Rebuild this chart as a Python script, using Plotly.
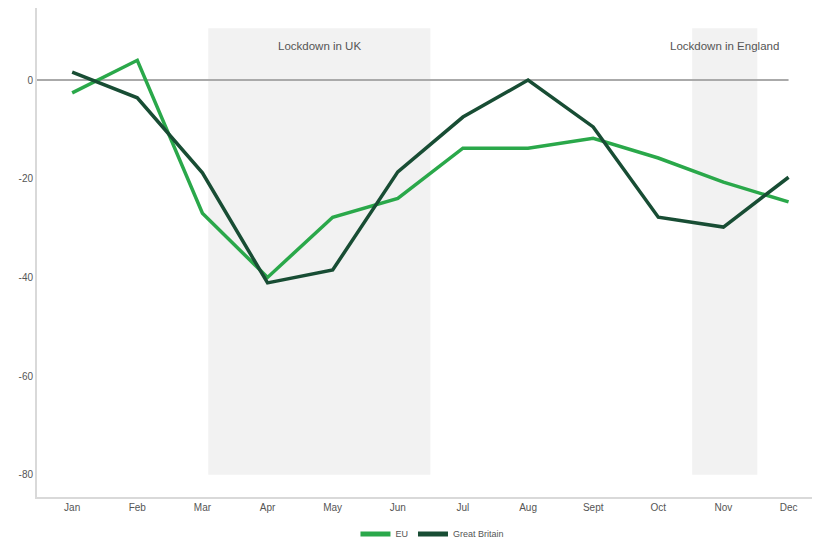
import plotly.graph_objects as go

months = ["Jan", "Feb", "Mar", "Apr", "May", "Jun", "Jul", "Aug", "Sept", "Oct", "Nov", "Dec"]
eu = [-2.6, 4.0, -27.0, -40.0, -27.8, -24.0, -13.8, -13.8, -11.8, -15.8, -20.7, -24.7]
gb = [1.6, -3.6, -18.8, -41.1, -38.5, -18.6, -7.5, 0.0, -9.5, -27.8, -29.8, -19.7]

y_ticks = [0, -20, -40, -60, -80]

# lockdown periods as (start, end) in category positions, with label
lockdowns = [
    (2.09, 5.5, "Lockdown in UK"),
    (9.52, 10.52, "Lockdown in England"),
]

EU_COLOR = "#2aa84a"
GB_COLOR = "#184d34"

fig = go.Figure()

fig.add_trace(go.Scatter(x=list(range(len(months))), y=eu, name="EU", mode="lines",
                         line=dict(color=EU_COLOR, width=3.5)))
fig.add_trace(go.Scatter(x=list(range(len(months))), y=gb, name="Great Britain", mode="lines",
                         line=dict(color=GB_COLOR, width=3.5)))

shapes = []
annotations = []
for x0, x1, label in lockdowns:
    shapes.append(dict(type="rect", xref="x", yref="y", x0=x0, x1=x1, y0=-80, y1=10.5,
                       fillcolor="#f2f2f2", line=dict(width=0), layer="below"))
    annotations.append(dict(x=(x0 + x1) / 2, y=7, xref="x", yref="y", text=label,
                            showarrow=False, xanchor="center",
                            font=dict(size=11.5, color="#555", family="Liberation Sans, Arial")))

# zero reference line
shapes.append(dict(type="line", xref="x", yref="y", x0=-0.54, x1=11, y0=0, y1=0,
                   line=dict(color="#aaaaaa", width=2), layer="below"))

fig.update_layout(
    width=816, height=541,
    margin=dict(l=37, r=4, t=8, b=44),
    paper_bgcolor="white", plot_bgcolor="white",
    shapes=shapes, annotations=annotations,
    showlegend=True,
    legend=dict(orientation="h", x=0.53, xanchor="center", xref="container",
                y=0.013, yanchor="middle", yref="container",
                font=dict(size=9, color="#555", family="Liberation Sans, Arial"),
                itemwidth=30, tracegroupgap=0, itemsizing="constant"),
    font=dict(family="Liberation Sans, Arial", size=10, color="#555"),
)

fig.update_xaxes(range=[-0.54, 11.36], tickmode="array", tickvals=list(range(len(months))),
                 ticktext=months, showgrid=False, zeroline=False, showline=True,
                 linecolor="#d9d9d9", linewidth=2, ticks="", tickfont=dict(size=10, color="#555"))
fig.update_yaxes(range=[-84.5, 14.6], tickmode="array", tickvals=y_ticks,
                 ticktext=[str(v) for v in y_ticks], showgrid=False, zeroline=False,
                 showline=True, linecolor="#d9d9d9", linewidth=2, ticks="",
                 tickfont=dict(size=10, color="#555"))

fig.write_html("out.html")
